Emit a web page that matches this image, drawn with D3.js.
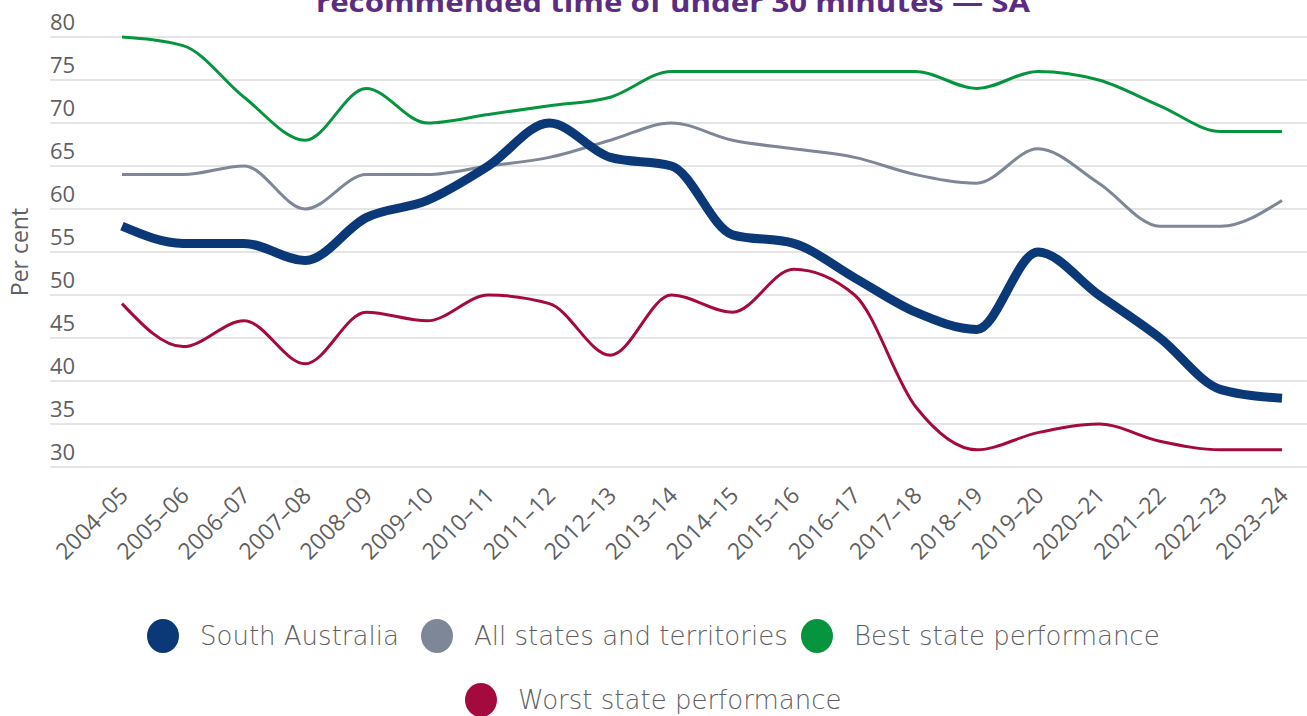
<!DOCTYPE html>
<html>
<head>
<meta charset="utf-8">
<script src="https://cdn.jsdelivr.net/npm/d3@7"></script>
<style>
  html, body { margin: 0; padding: 0; background: #fff; }
  svg { display: block; }
</style>
</head>
<body>
<svg id="chart" width="1307" height="716"></svg>
<script>
const categories = ["2004–05","2005–06","2006–07","2007–08","2008–09","2009–10","2010–11","2011–12","2012–13","2013–14","2014–15","2015–16","2016–17","2017–18","2018–19","2019–20","2020–21","2021–22","2022–23","2023–24"];
const southAustralia = [58,56,56,54,59,61,65,70,66,65,57,56,52,48,46,55,50,45,39,38];
const allStates      = [64,64,65,60,64,64,65,66,68,70,68,67,66,64,63,67,63,58,58,61];
const bestState      = [80,79,73,68,74,70,71,72,73,76,76,76,76,76,74,76,75,72,69,69];
const worstState     = [49,44,47,42,48,47,50,49,43,50,48,53,50,37,32,34,35,33,32,32];
const yTicks = [30,35,40,45,50,55,60,65,70,75,80];
const titleText = "recommended time of under 30 minutes — SA";
const yLabel = "Per cent";

const series = [
  { name: "South Australia", values: southAustralia, color: "#0b3877", width: 9 },
  { name: "All states and territories", values: allStates, color: "#7d8797", width: 3 },
  { name: "Best state performance", values: bestState, color: "#07943f", width: 3 },
  { name: "Worst state performance", values: worstState, color: "#a50a3f", width: 3 }
];

const svg = d3.select("#chart");
const x = d3.scalePoint().domain(categories).range([122, 1282]);
const y = d3.scaleLinear().domain([30, 80]).range([467, 37]);

// Title (partially cut at top, as in the source)
svg.append("text")
  .attr("x", 673).attr("y", 12)
  .attr("text-anchor", "middle")
  .attr("font-family", "Open Sans, sans-serif")
  .attr("font-weight", 700)
  .attr("font-size", 27)
  .attr("fill", "#5a2d82")
  .attr("textLength", 714)
  .attr("lengthAdjust", "spacingAndGlyphs")
  .text(titleText);

// Gridlines + y labels
const yAxis = svg.append("g");
yAxis.selectAll("line").data(yTicks).join("line")
  .attr("x1", 50).attr("x2", 1307)
  .attr("y1", d => y(d)).attr("y2", d => y(d))
  .attr("stroke", "#dcdcdc").attr("stroke-width", 1.5);
yAxis.selectAll("text").data(yTicks).join("text")
  .attr("x", 50).attr("y", d => y(d) - 7)
  .attr("font-family", "Open Sans, sans-serif")
  .attr("font-size", 22)
  .attr("fill", "#5f5f5f")
  .text(d => d);

// Y label
svg.append("text")
  .attr("transform", "translate(28,252) rotate(-90)")
  .attr("text-anchor", "middle")
  .attr("font-family", "Open Sans, sans-serif")
  .attr("font-size", 23)
  .attr("fill", "#5f5f5f")
  .text(yLabel);

// X axis labels
const xAxis = d3.axisBottom(x).tickSize(0).tickPadding(0);
const gx = svg.append("g").attr("transform", "translate(0,478)").call(xAxis);
gx.select(".domain").remove();
gx.selectAll("text")
  .attr("font-family", "Open Sans, sans-serif")
  .attr("font-size", 23)
  .attr("fill", "#5f5f5f")
  .attr("text-anchor", "end")
  .attr("dy", "0")
  .attr("transform", "translate(7,19) rotate(-45)");

// Lines
const line = d3.line()
  .x((d, i) => x(categories[i]))
  .y(d => y(d))
  .curve(d3.curveMonotoneX);

const drawOrder = [1, 2, 3, 0];
drawOrder.forEach(k => {
  const s = series[k];
  svg.append("path")
    .datum(s.values)
    .attr("d", line)
    .attr("fill", "none")
    .attr("stroke", s.color)
    .attr("stroke-width", s.width)
    .attr("stroke-linejoin", "round")
    .attr("stroke-linecap", "butt");
});

// Legend
const legendPos = [
  { cx: 163, cy: 636 },
  { cx: 437, cy: 636 },
  { cx: 817, cy: 636 },
  { cx: 481, cy: 700 }
];
const lg = svg.append("g");
series.forEach((s, i) => {
  const p = legendPos[i];
  lg.append("ellipse").attr("cx", p.cx).attr("cy", p.cy).attr("rx", 16).attr("ry", 17).attr("fill", s.color);
  lg.append("text")
    .attr("x", p.cx + 37).attr("y", p.cy + 9)
    .attr("font-family", "DejaVu Sans, sans-serif")
    .attr("font-size", 26)
    .attr("font-weight", 200)
    .attr("fill", "#5f5f5f")
    .text(s.name);
});
</script>
</body>
</html>
